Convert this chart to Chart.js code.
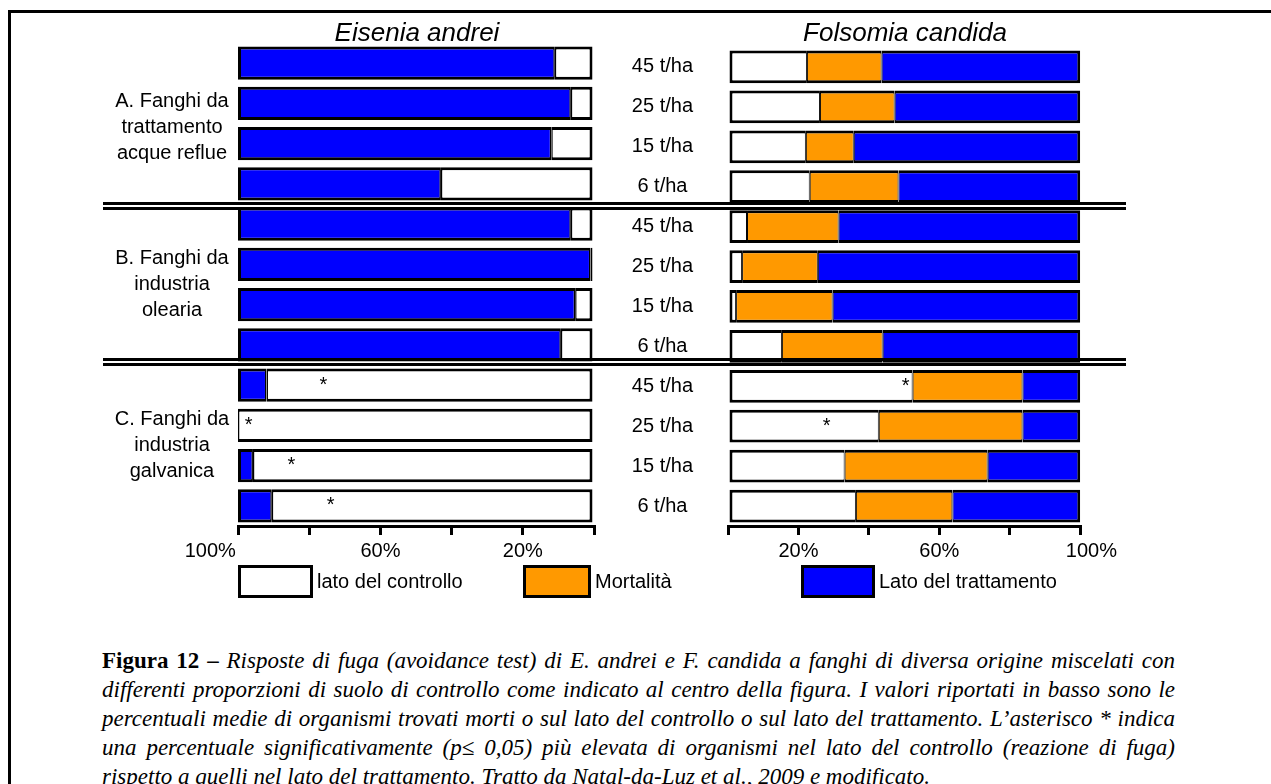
<!DOCTYPE html>
<html lang="it">
<head>
<meta charset="utf-8">
<title>Figura 12</title>
<script src="https://cdn.jsdelivr.net/npm/chart.js@4.4.1/dist/chart.umd.min.js"></script>
<style>
  html, body { margin: 0; padding: 0; background: #fff; }
  body { width: 1271px; height: 784px; position: relative; overflow: hidden; font-family: "Liberation Sans", Arial, sans-serif; color: #000; }
  .abs { position: absolute; }
  #cornice { left: 8px; top: 10px; width: 1270px; height: 800px; border: 3px solid #000; box-sizing: border-box; }
  .titolo { font-size: 26px; font-style: italic; width: 300px; text-align: center; line-height: 30px; }
  .gruppo { left: 92px; width: 160px; text-align: center; font-size: 20px; line-height: 26px; }
  .sep { left: 103px; width: 1023px; height: 3px; background: #000; }
  .box { width: 75px; height: 33px; border: 3px solid #000; box-sizing: border-box; top: 565px; }
  .leg { font-size: 20px; top: 569px; line-height: 24px; }
  #didascalia { left: 102px; top: 646px; width: 1073px; font-family: "Liberation Serif", "Times New Roman", serif; font-size: 23px; line-height: 29px; font-style: italic; }
  #didascalia div { text-align: justify; text-align-last: justify; white-space: nowrap; }
  #didascalia div.ultima { text-align-last: left; }
  #didascalia b { font-style: normal; }
</style>
</head>
<body>
<div id="cornice" class="abs"></div>

<canvas id="grafico-ea" class="abs" width="456" height="600" style="left:178px;top:0px;"></canvas>
<canvas id="grafico-fc" class="abs" width="535" height="600" style="left:586px;top:0px;"></canvas>

<div class="abs titolo" style="left:267px;top:17px;">Eisenia andrei</div>
<div class="abs titolo" style="left:755px;top:17px;">Folsomia candida</div>

<div class="abs gruppo" style="top:87px;">A. Fanghi da<br>trattamento<br>acque reflue</div>
<div class="abs gruppo" style="top:244px;">B. Fanghi da<br>industria<br>olearia</div>
<div class="abs gruppo" style="top:405px;">C. Fanghi da<br>industria<br>galvanica</div>

<div class="abs sep" style="top:202px;"></div>
<div class="abs sep" style="top:207px;"></div>
<div class="abs sep" style="top:358px;"></div>
<div class="abs sep" style="top:363px;"></div>

<div class="abs box" style="left:238px;background:#fff;"></div>
<div class="abs leg" style="left:317px;">lato del controllo</div>
<div class="abs box" style="left:523px;width:68px;background:#ff9900;"></div>
<div class="abs leg" style="left:595px;">Mortalità</div>
<div class="abs box" style="left:801px;width:74px;background:#0000ff;"></div>
<div class="abs leg" style="left:879px;">Lato del trattamento</div>

<div id="didascalia" class="abs">
  <div><b>Figura 12 –</b> Risposte di fuga (avoidance test) di E. andrei e F. candida a fanghi di diversa origine miscelati con</div>
  <div>differenti proporzioni di suolo di controllo come indicato al centro della figura. I valori riportati in basso sono le</div>
  <div>percentuali medie di organismi trovati morti o sul lato del controllo o sul lato del trattamento. L’asterisco * indica</div>
  <div>una percentuale significativamente (p≤ 0,05) più elevata di organismi nel lato del controllo (reazione di fuga)</div>
  <div class="ultima">rispetto a quelli nel lato del trattamento. Tratto da Natal-da-Luz et al., 2009 e modificato.</div>
</div>

<script>
// Dosi (righe dall'alto verso il basso: gruppi A, B, C)
const dosi = ['45 t/ha', '25 t/ha', '15 t/ha', '6 t/ha',
              '45 t/ha', '25 t/ha', '15 t/ha', '6 t/ha',
              '45 t/ha', '25 t/ha', '15 t/ha', '6 t/ha'];

// Eisenia andrei (%)
const eaControllo   = [11, 6.5, 12, 43, 6.5, 1, 5.3, 9.3, 92, 100, 95.8, 90.5];
const eaTrattamento = [89, 93.5, 88, 57, 93.5, 99, 94.7, 90.7, 8, 0, 4.2, 9.5];

// Folsomia candida (%)
const fcControllo   = [22.4, 26.1, 22.1, 23.2, 5.4, 4, 2.3, 15.3, 52.4, 42.8, 33.1, 36.3];
const fcMortalita   = [21.2, 21.2, 13.6, 25.2, 26, 21.5, 27.4, 28.6, 31.2, 40.8, 40.6, 27.4];
const fcTrattamento = [56.4, 52.7, 64.3, 51.6, 68.6, 74.5, 70.3, 56.1, 16.4, 16.4, 26.3, 36.3];

// Etichette degli assi x
const tickEa = [100, 60, 20];
const tickFc = [20, 60, 100];

// Asterischi (riga, posizione in %)
const asterischiEaRighe = [8, 9, 10, 11];
const asterischiEaValori = [76, 97, 85, 74];
const asterischiFcRighe = [8, 9];
const asterischiFcValori = [50.4, 28];

const FONT = '"Liberation Sans", Arial, sans-serif';
const BLU = '#0000ff';
const ARANCIO = '#ff9900';

// Disegna gli asterischi sopra le barre
const pluginAsterischi = {
    id: 'asterischi',
    afterDatasetsDraw(chart, args, opts) {
        const ctx = chart.ctx;
        const xs = chart.scales.x;
        const ys = chart.scales.y;
        ctx.save();
        ctx.font = '20px ' + FONT;
        ctx.fillStyle = '#000';
        ctx.textAlign = 'center';
        ctx.textBaseline = 'middle';
        opts.righe.forEach((riga, i) => {
            ctx.fillText('*', xs.getPixelForValue(opts.valori[i]), ys.getPixelForValue(riga));
        });
        ctx.restore();
    }
};

function serie(label, data, colore, bordi) {
    return {
        label: label,
        data: data,
        backgroundColor: colore,
        borderColor: '#000',
        borderWidth: bordi,
        borderSkipped: false,
        categoryPercentage: 1,
        barPercentage: 0.82
    };
}

// il "100%" esterno e' spostato verso il bordo, come nell'originale
function assex(reverse, etichette, altezza) {
    return {
        type: 'linear',
        stacked: true,
        reverse: reverse,
        min: 0,
        max: 100,
        ticks: {
            stepSize: 20,
            color: '#000',
            font: { family: FONT, size: 20 },
            padding: 4,
            maxRotation: 0,
            autoSkip: false,
            callback: (v) => {
                if (!etichette.includes(v)) return '';
                if (v === 100) return reverse ? '100%' + ' '.repeat(10) : ' '.repeat(4) + '100%';
                return v + '%';
            }
        },
        grid: { drawOnChartArea: false, drawTicks: true, tickLength: 9, lineWidth: 3, color: '#000' },
        border: { display: true, width: 3, color: '#000' },
        afterFit: (s) => { s.height = altezza; }
    };
}

// Grafico di sinistra: Eisenia andrei (asse invertito)
new Chart(document.getElementById('grafico-ea'), {
    type: 'bar',
    data: {
        labels: dosi,
        datasets: [
            serie('lato del controllo', eaControllo, '#fff', { top: 3, bottom: 3, left: 1.5, right: 3 }),
            serie('Lato del trattamento', eaTrattamento, BLU, { top: 3, bottom: 3, left: 3, right: 1.5 })
        ]
    },
    options: {
        indexAxis: 'y',
        responsive: false,
        animation: false,
        layout: { padding: { left: 60, right: 40, top: 43, bottom: 34 } },
        scales: {
            x: assex(true, tickEa, 40),
            y: { type: 'category', stacked: true, display: false }
        },
        plugins: {
            legend: { display: false },
            tooltip: { enabled: false },
            asterischi: { righe: asterischiEaRighe, valori: asterischiEaValori }
        }
    },
    plugins: [pluginAsterischi]
});

// Grafico di destra: Folsomia candida, con le dosi al centro
new Chart(document.getElementById('grafico-fc'), {
    type: 'bar',
    data: {
        labels: dosi,
        datasets: [
            serie('lato del controllo', fcControllo, '#fff', { top: 3, bottom: 3, left: 3, right: 1 }),
            serie('Mortalità', fcMortalita, ARANCIO, { top: 3, bottom: 3, left: 1, right: 1 }),
            serie('Lato del trattamento', fcTrattamento, BLU, { top: 3, bottom: 3, left: 1, right: 3 })
        ]
    },
    options: {
        indexAxis: 'y',
        responsive: false,
        animation: false,
        layout: { padding: { left: 10, right: 40, top: 43, bottom: 34 } },
        scales: {
            x: assex(false, tickFc, 40),
            y: {
                type: 'category',
                stacked: true,
                position: 'left',
                grid: { display: false, drawTicks: false },
                border: { display: false },
                ticks: {
                    color: '#000',
                    font: { family: FONT, size: 20 },
                    crossAlign: 'center',
                    padding: 35
                },
                afterFit: (s) => { s.width = 132; }
            }
        },
        plugins: {
            legend: { display: false },
            tooltip: { enabled: false },
            asterischi: { righe: asterischiFcRighe, valori: asterischiFcValori }
        }
    },
    plugins: [pluginAsterischi]
});
</script>
</body>
</html>
